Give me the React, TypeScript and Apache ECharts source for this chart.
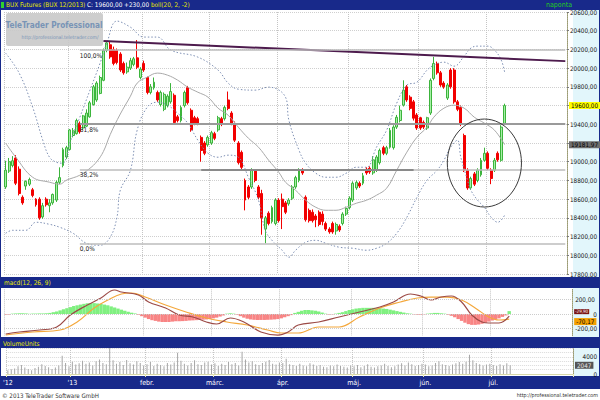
import React, { useEffect, useRef } from "react";
import * as echarts from "echarts";

// ---------- DATA ----------
const SLOT_COUNT = 167; // trading-day slots on the x axis (149 candles + empty right margin)
const monthStartIdx = [0, 19, 41, 61, 81, 102, 123, 143];
const monthNames = ["'12", "'13", "febr.", "márc.", "ápr.", "máj.", "jún.", "júl."];

// [open, close, low, high]
const candles: number[][] = [
  [18730, 18910, 18710, 19010], [18900, 19000, 18880, 19040], [18960, 19010, 18940, 19060], [19040, 18770, 18750, 19070],
  [18920, 18660, 18640, 18950], [18620, 18560, 18540, 18640], [18740, 18790, 18700, 18800], [18760, 18810, 18740, 18830],
  [18700, 18640, 18620, 18720], [18600, 18540, 18520, 18610], [18600, 18400, 18380, 18620], [18410, 18530, 18390, 18560],
  [18600, 18540, 18520, 18620], [18530, 18560, 18460, 18600], [18560, 18650, 18540, 18660], [18590, 18780, 18570, 18800],
  [18780, 18830, 18760, 18940], [18960, 19130, 18940, 19150], [19050, 19150, 19030, 19170],
  [19130, 19340, 19120, 19350], [19280, 19330, 19260, 19360], [19300, 19440, 19290, 19460], [19410, 19320, 19300, 19430],
  [19360, 19490, 19340, 19500], [19380, 19520, 19370, 19560], [19480, 19630, 19470, 19650], [19610, 19800, 19600, 19820],
  [19660, 19840, 19640, 19860], [19730, 19900, 19720, 19920], [19870, 20190, 19860, 20210], [20190, 20270, 20170, 20290],
  [20250, 20120, 20100, 20280], [20200, 20050, 20030, 20230], [20190, 20060, 20040, 20210], [20150, 19980, 19960, 20170],
  [20050, 19950, 19930, 20070], [19960, 20010, 19940, 20060], [20000, 20080, 19980, 20110], [20040, 20100, 20020, 20120],
  [20110, 20010, 19990, 20300], [19900, 19990, 19880, 20010],
  [20050, 19980, 19960, 20080], [19900, 19740, 19720, 19910], [19740, 19800, 19720, 19830], [19790, 19850, 19770, 19900],
  [19740, 19660, 19640, 19760], [19610, 19740, 19590, 19760], [19560, 19720, 19540, 19740], [19600, 19700, 19580, 19720],
  [19640, 19750, 19620, 19840], [19710, 19420, 19400, 19730], [19480, 19440, 19420, 19500], [19440, 19580, 19420, 19600],
  [19600, 19740, 19580, 19760], [19790, 19630, 19610, 19810], [19550, 19340, 19320, 19570], [19470, 19410, 19390, 19490],
  [19460, 19410, 19390, 19480], [19260, 19120, 19000, 19280], [19200, 19090, 19070, 19220], [19180, 19260, 19160, 19280],
  [19200, 19310, 19180, 19330], [19300, 19250, 19230, 19320], [19340, 19470, 19320, 19490], [19460, 19400, 19380, 19480],
  [19460, 19580, 19440, 19600], [19660, 19570, 19550, 19750], [19520, 19410, 19390, 19540], [19410, 19230, 19210, 19430],
  [19200, 18990, 18970, 19220], [19100, 18940, 18920, 19120], [18800, 18590, 18480, 18820], [18730, 18620, 18600, 18750],
  [18730, 18910, 18710, 18930], [18900, 18800, 18780, 18920], [18730, 18620, 18600, 18750], [18660, 18400, 18220, 18700],
  [18280, 18400, 18128, 18420], [18450, 18340, 18320, 18470], [18360, 18510, 18340, 18530], [18340, 18590, 18320, 18610],
  [18590, 18370, 18350, 18610], [18600, 18520, 18280, 18660], [18560, 18460, 18440, 18580], [18550, 18590, 18530, 18610],
  [18610, 18730, 18590, 18750], [18730, 18830, 18710, 18850], [18800, 18910, 18780, 18930], [18910, 18880, 18860, 18930],
  [18620, 18380, 18360, 18640], [18480, 18370, 18350, 18500], [18460, 18370, 18350, 18490], [18420, 18380, 18300, 18440],
  [18460, 18330, 18310, 18480], [18440, 18360, 18320, 18470], [18340, 18280, 18260, 18360], [18280, 18250, 18230, 18300],
  [18340, 18250, 18230, 18360], [18260, 18330, 18220, 18350], [18310, 18270, 18250, 18330], [18340, 18440, 18320, 18460],
  [18440, 18500, 18420, 18520],
  [18510, 18610, 18490, 18630], [18590, 18770, 18570, 18790], [18720, 18780, 18700, 18800], [18770, 18740, 18720, 18790],
  [18770, 18850, 18750, 18880], [18920, 18880, 18860, 18940], [18930, 18890, 18870, 18950], [18880, 19020, 18860, 19060],
  [18910, 19050, 18890, 19070], [18990, 19120, 18970, 19140], [19150, 19090, 19070, 19170], [19090, 19150, 19070, 19170],
  [19155, 19335, 19140, 19360], [19150, 19370, 19130, 19390], [19370, 19475, 19350, 19500], [19440, 19550, 19420, 19600],
  [19605, 19765, 19590, 19870], [19800, 19660, 19640, 19820], [19690, 19570, 19550, 19710], [19640, 19465, 19440, 19660],
  [19500, 19360, 19340, 19520],
  [19470, 19360, 19340, 19480], [19420, 19370, 19350, 19440], [19360, 19470, 19340, 19480], [19520, 19870, 19500, 19890],
  [19890, 20050, 19870, 20120], [20050, 19950, 19930, 20070], [19950, 19820, 19800, 19970], [19840, 19800, 19780, 19860],
  [19680, 19820, 19660, 19840], [19980, 19800, 19780, 20000], [19980, 19640, 19620, 20000], [19640, 19560, 19540, 19660],
  [19580, 19400, 19380, 19600], [19280, 18910, 18890, 19300], [18910, 18720, 18700, 18930], [18720, 18820, 18700, 18840],
  [18870, 18760, 18740, 18890], [18800, 18910, 18780, 18930], [18860, 19015, 18840, 19040], [19015, 19090, 19000, 19150],
  [19090, 18930, 18910, 19110], [18910, 18820, 18760, 18930], [18910, 19015, 18890, 19040], [19090, 19020, 19000, 19110],
  [19015, 19370, 19000, 19390], [19410, 19600, 19400, 19620],
];

const volume = [
  900, 1100, 1300, 1800, 2100, 1500, 1200, 900, 1400, 1700, 2300, 1900, 1600, 1200, 1500, 2000, 4300, 2600, 1800,
  2900, 2200, 2500, 3100, 2400, 2700, 2000, 3000, 3400, 2600, 2300, 6100, 3200, 2400, 2800, 2100, 3300, 2500, 2200, 3000, 2600, 2000,
  2300, 2800, 1900, 2400, 2100, 1800, 2600, 2200, 2700, 5000, 3100, 2400, 2000, 2600, 3200, 2300, 2100, 2700, 2900, 2200,
  2500, 1900, 2400, 2100, 2800, 2300, 2600, 2000, 5200, 3400, 2700, 3000, 2300, 2100, 2600, 2900, 3300, 2400, 2200, 2700,
  2600, 3600, 2300, 2100, 1900, 2400, 2000, 1800, 2500, 2200, 1900, 2100, 1700, 1600, 2000, 1800, 2200, 1900, 1700, 1500, 2000,
  1800, 2100, 1600, 1900, 2300, 1700, 1500, 1800, 2000, 2400, 1900, 1600, 1800, 2200, 2500, 2000, 2700, 2300, 1900, 2100, 2400,
  2200, 1800, 2000, 2600, 3000, 2300, 2100, 1900, 2200, 2500, 2800, 2400, 2900, 4500, 3200, 2600, 2300, 2000, 2200, 2400,
  2100, 1900, 2300, 2000, 2500, 2047,
];

// Bollinger (20, 2): [slot, value]
const bollMid = [
  [0, 19198], [3, 19048], [8, 18834], [13, 18781], [16, 18760], [18, 18802], [22, 18856], [25, 18930], [27, 19000],
  [29, 19110], [31, 19290], [34, 19510], [37, 19700], [39, 19840], [42, 19904], [45, 19947], [48, 19925], [51, 19872],
  [54, 19797], [57, 19743], [60, 19690], [63, 19572], [66, 19497], [69, 19369], [72, 19251], [75, 19155], [78, 19016],
  [81, 18888], [83, 18781], [86, 18695], [89, 18588], [92, 18513], [95, 18481], [98, 18481], [101, 18513], [104, 18556],
  [107, 18588], [110, 18642], [113, 18717], [116, 18909], [119, 19102], [122, 19262], [125, 19369], [127, 19476],
  [130, 19572], [133, 19604], [136, 19572], [139, 19476], [142, 19412], [145, 19337], [148, 19181.97],
];
const bollUpper = [
  [0, 20160], [4, 19947], [8, 19583], [11, 19230], [13, 19048], [15, 18995], [17, 18984], [18, 19048], [19, 19198],
  [22, 19476], [25, 19765], [28, 20053], [30, 20267], [33, 20503], [37, 20438], [41, 20332], [45, 20332], [49, 20193],
  [57, 20118], [63, 19979], [66, 19840], [69, 19775], [74, 19765], [78, 19797], [83, 19690], [84, 19444], [87, 19123],
  [89, 18984], [92, 18877], [95, 18834], [98, 18834], [101, 18877], [104, 18941], [107, 18941], [110, 19155],
  [113, 19337], [116, 19626], [119, 19818], [122, 19850], [125, 19979], [127, 20032], [130, 20064], [133, 20021],
  [136, 20128], [138, 20214], [140, 20235], [143, 20235], [145, 20193], [147, 20086], [148, 19957],
];
const bollLower = [
  [0, 18235], [2, 18267], [6, 18267], [9, 18353], [13, 18331], [16, 18300], [20, 18235], [24, 18128], [28, 18107],
  [31, 18193], [33, 18406], [34, 18695], [37, 18909], [39, 19337], [42, 19583], [45, 19636], [48, 19604], [51, 19519],
  [54, 19412], [57, 19230], [60, 19091], [63, 19048], [66, 19070], [69, 19048], [72, 18834], [75, 18588], [77, 18267],
  [79, 18160], [82, 18054], [84, 17979], [86, 18054], [89, 18139], [92, 18160], [95, 18128], [99, 18086], [103, 18075],
  [107, 18054], [110, 18075], [113, 18128], [116, 18235], [119, 18406], [122, 18620], [125, 18802], [128, 18909],
  [130, 19016], [132, 19155], [134, 19230], [135, 19048], [137, 18802], [138, 18695], [140, 18588], [142, 18513],
  [144, 18406], [146, 18353], [148, 18428],
];

// MACD (12, 26, 9): [slot, value]
const macdLine = [
  [0, -276], [4, -248], [10, -221], [15, -179], [19, -14], [24, 124], [28, 221], [32, 331], [34, 303], [39, 262],
  [42, 166], [47, 83], [51, -14], [55, -41], [59, -110], [62, -138], [66, -55], [70, -110], [75, -248], [80, -290],
  [83, -248], [86, -152], [92, -110], [98, -41], [104, 28], [110, 97], [114, 166], [119, 276], [122, 248], [125, 193],
  [128, 234], [131, 248], [134, 166], [137, -14], [140, -110], [142, -124], [145, -124], [148, -29.9],
];
const signalLine = [
  [0, -290], [8, -248], [16, -221], [21, -110], [26, 83], [30, 193], [34, 276], [37, 290], [41, 234], [47, 124],
  [53, 28], [59, -55], [65, -110], [71, -152], [77, -221], [81, -262], [86, -262], [92, -179], [98, -179], [104, -41],
  [110, 83], [116, 166], [121, 221], [125, 234], [130, 234], [134, 193], [138, 83], [142, -41], [145, -83], [148, -70.17],
];
const macdHist = [
  -10, -8, 5, 8, 10, 10, 8, 3, 6, 6, 8, 8, 10,
  15, 25, 35, 50, 65, 80, 95, 110, 120, 130, 140, 148, 150, 150, 145, 140, 130, 120, 105, 90, 75, 60, 45, 30, 18, 8,
  -10, -30, -50, -70, -85, -95, -105, -110, -110, -110, -105, -100, -100, -98, -95, -90, -88, -85, -80, -78, -75, -70, -60, -50, -35, -20,
  5, 10, 5,
  -10, -30, -50, -65, -75, -80, -82, -82, -82, -80, -78, -75, -70, -60, -45, -30, -15,
  15, 30, 45, 55, 55, 50, 45, 35, 20, 5, -8, -5, 5, 15, 25, 40, 55, 65, 75, 80,
  85, 85, 85, 85, 80, 80, 75, 70, 60, 50, 40, 30, 20, 10, 5, -5, -10, -10, -5, 5,
  10, 15, 15, 10, 5, -10, -25, -45, -70, -95, -120, -140, -150, -150, -145, -135, -120, -105, -90, -75,
  -60, -40, -20, 40,
];

// Drawn annotations (in data units)
const fibNames = ["100,0%", "61,8%", "38,2%", "0,0%"];
const fibValues = [20193, 19402, 18916, 18128];
const fibStartSlot = 22;
const fibDarkSegment = [58, 121]; // darker overlay on the 38,2% level
const trendLine = [[29, 20290], [166, 20075]];
const circleCenter = [142, 18986];
const circleHalfWidthSlots = 11;
const circleHalfHeightPrice = 470;

const priceMin = 17800, priceMax = 20600, priceStep = 200;
const macdMin = -300, macdMax = 340, macdLabelTicks = [-200, 0, 200];
const volMax = 6100, volLabelTicks = [0, 4000];

// ---------- HELPERS ----------
const FONT = "'Liberation Sans Narrow','DejaVu Sans Condensed','Liberation Sans',sans-serif";
const NAVY = "#18298a";
const AXIS_BG = "#e2f6fb";
const HIDDEN_LINE = { color: "rgba(0,0,0,0)", width: 0 };
const fmt2 = (v: number) => v.toFixed(2).replace(".", ",");
const categories = Array.from({ length: SLOT_COUNT }, (_, i) => String(i));
const isMonthStart = (i: number) => monthStartIdx.includes(i);
const lastSlot = SLOT_COUNT - 1;

export default function App() {
  const ref = useRef<HTMLDivElement>(null);

  useEffect(() => {
    if (!ref.current) return;
    const chart = echarts.init(ref.current, null, { renderer: "svg" });

    const lastClose = candles[candles.length - 1][1];
    const prevClose = candles[candles.length - 2][1];
    const change = lastClose - prevClose;
    const lastMid = bollMid[bollMid.length - 1][1];
    const lastVol = volume[volume.length - 1];
    const lastMacd = macdLine[macdLine.length - 1][1];
    const lastSignal = signalLine[signalLine.length - 1][1];
    const hiddenPriceLabels = [lastClose, Math.round(lastMid / priceStep) * priceStep];

    const catAxis = (gridIndex: number, showLabels: boolean) => ({
      type: "category",
      gridIndex,
      data: categories,
      boundaryGap: true,
      axisLine: { show: showLabels, lineStyle: { color: "#d8d8a8", width: 1 } },
      axisTick: { show: showLabels, interval: (i: number) => isMonthStart(i), length: 3, lineStyle: { color: "#e8e8b0" } },
      axisLabel: {
        show: showLabels,
        interval: (i: number) => isMonthStart(i),
        formatter: (_v: string, i: number) => monthNames[monthStartIdx.indexOf(i)] ?? "",
        color: "#ffffff",
        fontSize: 7,
        fontFamily: FONT,
        margin: 5,
      },
      splitLine: { show: true, interval: (i: number) => isMonthStart(i), lineStyle: { color: "#c4c4c4", type: "dotted" } },
    });

    const axisLabelBase = { fontSize: 6.3, fontFamily: FONT, color: "#111", margin: 3 };
    const valueTagLabel = { position: "end", distance: 2, fontSize: 6.3, fontFamily: FONT, padding: [1, 2, 0, 2] };

    const graphicElements: any[] = [
      { type: "rect", z: -10, silent: true, shape: { x: 1, y: 10, width: 572, height: 267 }, style: { fill: "#ffffff" } },
      { type: "rect", z: -10, silent: true, shape: { x: 573, y: 10, width: 26, height: 267 }, style: { fill: AXIS_BG } },
      { type: "rect", z: -10, silent: true, shape: { x: 1, y: 288, width: 572, height: 49 }, style: { fill: "#ffffff" } },
      { type: "rect", z: -10, silent: true, shape: { x: 573, y: 288, width: 26, height: 49 }, style: { fill: AXIS_BG } },
      { type: "rect", z: -10, silent: true, shape: { x: 1, y: 348, width: 572, height: 28 }, style: { fill: "#ffffff" } },
      { type: "rect", z: -10, silent: true, shape: { x: 573, y: 348, width: 26, height: 28 }, style: { fill: AXIS_BG } },
      { type: "rect", z: -10, silent: true, shape: { x: 0, y: 389, width: 600, height: 11 }, style: { fill: "#ffffff" } },
      { type: "rect", z: 20, silent: true, shape: { x: 1, y: 2, width: 3, height: 6 }, style: { fill: "#30d030" } },
      {
        type: "text", z: 20, silent: true, x: 6, y: 5,
        style: {
          text: `{a|BUX Futures (BUX 12/2013)} {b|C: ${fmt2(lastClose)} ${change >= 0 ? "+" : ""}${fmt2(change)}} {a|boll(20, 2, -2)}`,
          verticalAlign: "middle", fontSize: 6.4, fontFamily: FONT,
          rich: { a: { fill: "#e8e800", fontSize: 6.4, fontFamily: FONT }, b: { fill: "#ffffff", fontSize: 6.4, fontFamily: FONT } },
        },
      },
      { type: "text", z: 20, silent: true, x: 572, y: 5, style: { text: "naponta", fill: "#22cc22", fontSize: 7, fontFamily: FONT, align: "right", verticalAlign: "middle" } },
      { type: "rect", z: 15, silent: true, shape: { x: 6, y: 13, width: 97, height: 33, r: 2 }, style: { fill: "#c9c9c9", opacity: 0.9 } },
      { type: "text", z: 16, silent: true, x: 54, y: 25, style: { text: "TeleTrader Professional", fill: "#7894b6", fontSize: 8.2, fontWeight: "bold", fontFamily: FONT, align: "center", verticalAlign: "middle" } },
      { type: "text", z: 16, silent: true, x: 60, y: 37, style: { text: "http://professional.teletrader.com/", fill: "#7894b6", fontSize: 5, fontFamily: FONT, align: "center", verticalAlign: "middle" } },
      { type: "text", z: 20, silent: true, x: 4, y: 283, style: { text: "macd(12, 26, 9)", fill: "#e8e800", fontSize: 6.5, fontFamily: FONT, verticalAlign: "middle" } },
      { type: "text", z: 20, silent: true, x: 3, y: 343.5, style: { text: "VolumeUnits", fill: "#e8e800", fontSize: 6.5, fontFamily: FONT, verticalAlign: "middle" } },
      { type: "text", z: 20, silent: true, x: 2, y: 395, style: { text: "© 2013 TeleTrader Software GmbH", fill: "#333", fontSize: 6.2, fontFamily: FONT, verticalAlign: "middle" } },
      { type: "text", z: 20, silent: true, x: 598, y: 395, style: { text: "http://professional.teletrader.com", fill: "#333", fontSize: 5.4, fontFamily: FONT, align: "right", verticalAlign: "middle" } },
    ];

    const option: any = {
      animation: false,
      backgroundColor: "transparent",
      grid: [
        { left: 4, right: 27, top: 12, height: 262 },
        { left: 4, right: 27, top: 289.35, height: 46.4 },
        { left: 4, right: 27, top: 348, height: 26 },
      ],
      xAxis: [catAxis(0, false), catAxis(1, false), catAxis(2, true)],
      yAxis: [
        {
          type: "value", gridIndex: 0, position: "right", min: priceMin, max: priceMax, interval: priceStep,
          axisLine: { show: true, lineStyle: { color: "#9c9c70", type: "dotted" } },
          axisTick: { show: true, length: 2, lineStyle: { color: "#777" } },
          axisLabel: { ...axisLabelBase, formatter: (v: number) => (hiddenPriceLabels.includes(v) ? "" : fmt2(v)) },
          splitLine: { show: true, lineStyle: { color: "#cfcfcf", type: "dotted" } },
        },
        {
          type: "value", gridIndex: 1, position: "right", min: macdMin, max: macdMax, interval: 100,
          axisLine: { show: true, lineStyle: { color: "#9c9c70", type: "dotted" } },
          axisTick: { show: false },
          axisLabel: {
            ...axisLabelBase,
            formatter: (v: number) => (macdLabelTicks.includes(v) ? (v === 0 ? "{z|0}" : fmt2(v)) : ""),
            rich: { z: { padding: [0, 0, 0, 18], fontSize: 6.3, fontFamily: FONT, color: "#111" } },
          },
          splitLine: { show: false },
        },
        {
          type: "value", gridIndex: 2, position: "right", min: 0, max: volMax, interval: 1000,
          axisLine: { show: true, lineStyle: { color: "#9c9c70", type: "dotted" } },
          axisTick: { show: false },
          axisLabel: { ...axisLabelBase, formatter: (v: number) => (volLabelTicks.includes(v) ? String(v) : ""), align: "right", margin: 24 },
          splitLine: { show: true, lineStyle: { color: "#dadada", type: "dotted" } },
        },
      ],
      series: [
        {
          type: "candlestick", xAxisIndex: 0, yAxisIndex: 0, data: candles, barWidth: "72%",
          itemStyle: { color: "#a6f0a6", color0: "#f20000", borderColor: "#3cb43c", borderColor0: "#f20000", borderWidth: 1 },
          markLine: {
            silent: true, symbol: "none", animation: false,
            lineStyle: HIDDEN_LINE,
            label: valueTagLabel,
            data: [
              { yAxis: lastClose, label: { formatter: fmt2(lastClose), backgroundColor: "#ffff00", color: "#000" } },
              { yAxis: lastMid, label: { formatter: fmt2(lastMid), backgroundColor: "#6e6e6e", color: "#000" } },
            ],
          },
        },
        { type: "line", xAxisIndex: 0, yAxisIndex: 0, data: bollMid, smooth: 0.4, showSymbol: false, lineStyle: { color: "#a9a9a9", width: 1 } },
        { type: "line", xAxisIndex: 0, yAxisIndex: 0, data: bollUpper, smooth: 0.4, showSymbol: false, lineStyle: { color: "#7d8fb3", width: 1, type: [1.5, 2] } },
        { type: "line", xAxisIndex: 0, yAxisIndex: 0, data: bollLower, smooth: 0.4, showSymbol: false, lineStyle: { color: "#7d8fb3", width: 1, type: [1.5, 2] } },
        {
          type: "line", xAxisIndex: 0, yAxisIndex: 0, data: trendLine, showSymbol: false, z: 4,
          lineStyle: { color: "#4d1b4d", width: 2 },
          markLine: {
            silent: true, symbol: "none", animation: false,
            label: { show: true, position: "insideStartBottom", fontSize: 6.5, fontFamily: FONT, color: "#222", distance: [0, 2] },
            data: [
              ...fibValues.map((v, k) => [
                {
                  coord: [fibStartSlot, v], name: fibNames[k],
                  lineStyle: { color: k === 1 ? "#9a9a9a" : "#bdbdbd", width: k === 1 ? 2 : 1.5, type: "solid" },
                  label: { formatter: fibNames[k] },
                },
                { coord: [lastSlot, v] },
              ]),
              [
                { coord: [fibDarkSegment[0], fibValues[2]], lineStyle: { color: "#8a8a8a", width: 2, type: "solid" }, label: { show: false } },
                { coord: [fibDarkSegment[1], fibValues[2]] },
              ],
            ],
          },
        },
        {
          type: "bar", xAxisIndex: 1, yAxisIndex: 1, barWidth: "100%", barCategoryGap: "0%",
          data: macdHist.map((v) => ({ value: v, itemStyle: { color: v >= 0 ? "#80f080" : "#f88484" } })),
          markLine: {
            silent: true, symbol: "none", animation: false,
            lineStyle: { color: "#cccccc", type: "dotted", width: 1 },
            label: { show: false },
            data: macdLabelTicks.map((v) => ({ yAxis: v })),
          },
        },
        {
          type: "line", xAxisIndex: 1, yAxisIndex: 1, data: signalLine, smooth: 0.4, showSymbol: false, lineStyle: { color: "#f4a83c", width: 1.2 },
          markLine: {
            silent: true, symbol: "none", animation: false, lineStyle: HIDDEN_LINE,
            label: { ...valueTagLabel, offset: [0, 2.5] },
            data: [{ yAxis: lastSignal, label: { formatter: fmt2(lastSignal), backgroundColor: "#f4a000", color: "#000" } }],
          },
        },
        {
          type: "line", xAxisIndex: 1, yAxisIndex: 1, data: macdLine, smooth: 0.4, showSymbol: false, lineStyle: { color: "#9c4a46", width: 1.2 },
          markLine: {
            silent: true, symbol: "none", animation: false, lineStyle: HIDDEN_LINE,
            label: { ...valueTagLabel, fontSize: 4.5, padding: [0, 1, 0, 1], offset: [0, -4.5] },
            data: [{ yAxis: lastMacd, label: { formatter: fmt2(lastMacd), backgroundColor: "#7a1414", color: "#ffffff" } }],
          },
        },
        {
          type: "bar", xAxisIndex: 2, yAxisIndex: 2, data: volume, barWidth: 1, itemStyle: { color: "#a6a6a6" },
          markLine: {
            silent: true, symbol: "none", animation: false, lineStyle: HIDDEN_LINE,
            label: valueTagLabel,
            data: [{ yAxis: lastVol, label: { formatter: String(lastVol), backgroundColor: "#555555", color: "#e8e8e8" } }],
          },
        },
      ],
      graphic: { elements: graphicElements },
    };

    chart.setOption(option);

    // circle annotation placed through the chart's own scales
    const c = chart.convertToPixel({ gridIndex: 0 }, [circleCenter[0], circleCenter[1]]) as number[];
    const ex = chart.convertToPixel({ gridIndex: 0 }, [circleCenter[0] + circleHalfWidthSlots, circleCenter[1]]) as number[];
    const ey = chart.convertToPixel({ gridIndex: 0 }, [circleCenter[0], circleCenter[1] + circleHalfHeightPrice]) as number[];
    if (c && ex && ey) {
      chart.setOption({
        graphic: {
          elements: [
            ...graphicElements,
            {
              type: "ellipse", z: 10, silent: true,
              shape: { cx: c[0], cy: c[1], rx: Math.abs(ex[0] - c[0]), ry: Math.abs(c[1] - ey[1]) },
              style: { fill: "none", stroke: "#3a3a3a", lineWidth: 1 },
            },
          ],
        },
      });
    }

    return () => chart.dispose();
  }, []);

  return <div ref={ref} style={{ position: "fixed", left: 0, top: 0, width: 600, height: 400, background: NAVY }} />;
}
